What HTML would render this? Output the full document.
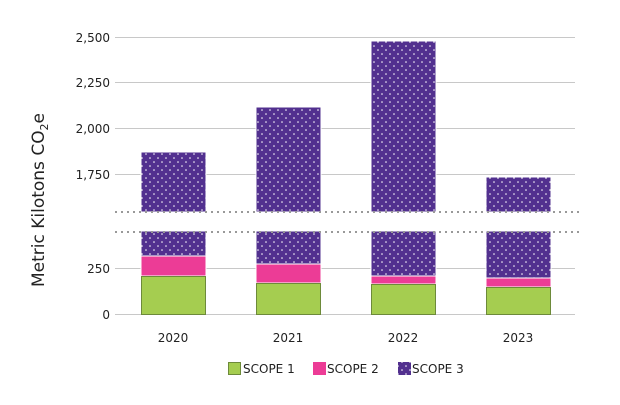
<!DOCTYPE html>
<html><head><meta charset="utf-8"><style>
body{margin:0;background:#fff;}
svg text{font-family:"DejaVu Sans","Liberation Sans",sans-serif;fill:#222;}
</style></head><body>
<svg width="620" height="400" xmlns="http://www.w3.org/2000/svg">
<defs>
<pattern id="dots" width="8" height="8" patternUnits="userSpaceOnUse">
<rect width="8" height="8" fill="#52308f"/>
<circle cx="2" cy="2" r="0.8" fill="#fff"/>
<circle cx="6" cy="6" r="0.8" fill="#fff"/>
</pattern>
</defs>
<g stroke="#c8c8c8" stroke-width="1">
<line x1="115" y1="37.5" x2="575" y2="37.5"/>
<line x1="115" y1="82.5" x2="575" y2="82.5"/>
<line x1="115" y1="128.5" x2="575" y2="128.5"/>
<line x1="115" y1="174.5" x2="575" y2="174.5"/>
<line x1="115" y1="268.5" x2="575" y2="268.5"/>
<line x1="115" y1="314.5" x2="575" y2="314.5"/>
</g>
<g font-size="12" text-anchor="end">
<text x="110" y="42">2,500</text>
<text x="110" y="87">2,250</text>
<text x="110" y="133">2,000</text>
<text x="110" y="179">1,750</text>
<text x="110" y="273">250</text>
<text x="110" y="319">0</text>
</g>
<g stroke="#fff" stroke-width="1">
<rect x="141" y="152" width="65" height="60" fill="url(#dots)"/>
<rect x="141" y="231" width="65" height="25" fill="url(#dots)"/>
<rect x="141" y="256" width="65" height="20" fill="#ec3c96"/>
<rect x="256" y="107" width="65" height="105" fill="url(#dots)"/>
<rect x="256" y="231" width="65" height="33" fill="url(#dots)"/>
<rect x="256" y="264" width="65" height="19" fill="#ec3c96"/>
<rect x="371" y="41" width="65" height="171" fill="url(#dots)"/>
<rect x="371" y="231" width="65" height="45" fill="url(#dots)"/>
<rect x="371" y="276" width="65" height="8" fill="#ec3c96"/>
<rect x="486" y="177" width="65" height="35" fill="url(#dots)"/>
<rect x="486" y="231" width="65" height="47" fill="url(#dots)"/>
<rect x="486" y="278" width="65" height="9" fill="#ec3c96"/>
</g>
<g fill="#a5cd50" stroke="#6d8a3a" stroke-width="1">
<rect x="141.5" y="276.5" width="64" height="38"/>
<rect x="256.5" y="283.5" width="64" height="31"/>
<rect x="371.5" y="284.5" width="64" height="30"/>
<rect x="486.5" y="287.5" width="64" height="27"/>
</g>
<g stroke="#999" stroke-width="2" stroke-dasharray="2,4">
<line x1="115" y1="212" x2="580" y2="212"/>
<line x1="115" y1="232" x2="580" y2="232"/>
</g>
<g font-size="12" text-anchor="middle">
<text x="173" y="342">2020</text>
<text x="288" y="342">2021</text>
<text x="403" y="342">2022</text>
<text x="518" y="342">2023</text>
</g>
<text transform="translate(44,200) rotate(-90)" font-size="17" text-anchor="middle">Metric Kilotons CO<tspan font-size="11" dy="4">2</tspan><tspan dy="-4">e</tspan></text>
<g font-size="12">
<rect x="228.5" y="362.5" width="12" height="12" fill="#a5cd50" stroke="#6d8a3a"/>
<text x="243" y="373">SCOPE 1</text>
<rect x="313" y="362" width="13" height="13" fill="#ec3c96"/>
<text x="327" y="373">SCOPE 2</text>
<rect x="398" y="362" width="13" height="13" fill="url(#dots)"/>
<text x="412" y="373">SCOPE 3</text>
</g>
</svg>
</body></html>
